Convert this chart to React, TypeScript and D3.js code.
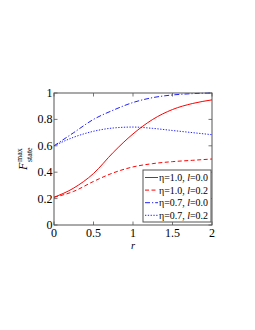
import React from 'react';
import * as d3 from 'd3';

// values
const rValues = [0, 0.25, 0.5, 0.75, 1, 1.25, 1.5, 1.75, 2];
const eta10l00 = [0.21, 0.28, 0.39, 0.55, 0.69, 0.8, 0.875, 0.92, 0.948];
const eta10l02 = [0.21, 0.255, 0.33, 0.395, 0.44, 0.465, 0.48, 0.49, 0.5];
const eta07l00 = [0.6, 0.7, 0.8, 0.87, 0.928, 0.965, 0.985, 0.995, 1.0];
const eta07l02 = [0.6, 0.665, 0.71, 0.735, 0.742, 0.732, 0.716, 0.7, 0.684];

const xTicks = [0, 0.5, 1, 1.5, 2];
const xTickLabels = ['0', '0.5', '1', '1.5', '2'];
const yTicks = [0, 0.2, 0.4, 0.6, 0.8, 1];
const yTickLabels = ['0', '0.2', '0.4', '0.6', '0.8', '1'];

const seriesEta = ['1.0', '1.0', '0.7', '0.7'];
const seriesL = ['0.0', '0.2', '0.0', '0.2'];

const width = 255;
const height = 330;
const left = 54;
const right = 212;
const top = 93;
const bottom = 225;
const font = '"Liberation Serif", "Times New Roman", serif';

const series = [
  { values: eta10l00, color: '#ff0000', dash: null },
  { values: eta10l02, color: '#ff0000', dash: '4,2.5' },
  { values: eta07l00, color: '#2020ff', dash: '5,2,1.2,2' },
  { values: eta07l02, color: '#2020ff', dash: '1.3,1.5' },
];

const App = () => {
  const x = d3.scaleLinear().domain([0, 2]).range([left, right]);
  const y = d3.scaleLinear().domain([0, 1]).range([bottom, top]);

  const line = d3.line<number>()
    .x((d, i) => x(rValues[i]))
    .y(d => y(d))
    .curve(d3.curveMonotoneX);

  const tick = 3.5;
  const axisColor = '#555';

  const legendX = 143;
  const legendY = 170;
  const legendW = 68;
  const legendH = 52;
  const rowH = 12.6;

  return (
    <svg width={width} height={height} style={{ position: 'absolute', left: 0, top: 0 }}>
      <rect width={width} height={height} fill="#fff" />
      <defs>
        <clipPath id="plot">
          <rect x={left} y={top - 1} width={right - left} height={bottom - top + 2} />
        </clipPath>
      </defs>

      {/* ticks on all four sides, pointing inward */}
      {xTicks.map(t => (
        <g key={'xt' + t}>
          <line x1={x(t)} x2={x(t)} y1={bottom} y2={bottom - tick} stroke={axisColor} strokeWidth={0.8} />
          <line x1={x(t)} x2={x(t)} y1={top} y2={top + tick} stroke={axisColor} strokeWidth={0.8} />
        </g>
      ))}
      {yTicks.map(t => (
        <g key={'yt' + t}>
          <line x1={left} x2={left + tick} y1={y(t)} y2={y(t)} stroke={axisColor} strokeWidth={0.8} />
          <line x1={right} x2={right - tick} y1={y(t)} y2={y(t)} stroke={axisColor} strokeWidth={0.8} />
        </g>
      ))}

      <g clipPath="url(#plot)">
        {series.map((s, i) => (
          <path key={i} d={line(s.values) || ''} fill="none" stroke={s.color}
            strokeWidth={1} strokeDasharray={s.dash || undefined} />
        ))}
      </g>

      <rect x={left} y={top} width={right - left} height={bottom - top}
        fill="none" stroke={axisColor} strokeWidth={1} />

      {xTicks.map((t, i) => (
        <text key={'xl' + t} x={x(t)} y={bottom + 12} textAnchor="middle"
          fontFamily={font} fontSize={12} fill="#000">{xTickLabels[i]}</text>
      ))}
      {yTicks.map((t, i) => (
        <text key={'yl' + t} x={left - 1.5} y={y(t) + 4} textAnchor="end"
          fontFamily={font} fontSize={12} fill="#000">{yTickLabels[i]}</text>
      ))}

      <text x={x(1)} y={bottom + 23.5} textAnchor="middle" fontFamily={font}
        fontSize={10.5} fontStyle="italic">r</text>

      <g transform="translate(27,170) rotate(-90)" fontFamily={font} fill="#000">
        <text x={0} y={0} fontSize={12} fontStyle="italic">F</text>
        <text x={8} y={-5} fontSize={8}>max</text>
        <text x={8} y={5} fontSize={8}>state</text>
      </g>

      <rect x={legendX} y={legendY} width={legendW} height={legendH}
        fill="#fff" stroke={axisColor} strokeWidth={1} />
      {series.map((s, i) => {
        const ry = legendY + 7.5 + i * rowH;
        return (
          <g key={'lg' + i}>
            <line x1={legendX + 2} x2={legendX + 15} y1={ry} y2={ry}
              stroke={s.color} strokeWidth={1} strokeDasharray={s.dash || undefined} />
            <text x={legendX + 16} y={ry + 3.5} fontFamily={font} fontSize={10} fill="#000"
              textLength={49} lengthAdjust="spacingAndGlyphs">
              {'η=' + seriesEta[i] + ', '}
              <tspan fontStyle="italic">l</tspan>
              {'=' + seriesL[i]}
            </text>
          </g>
        );
      })}
    </svg>
  );
};

export default App;
